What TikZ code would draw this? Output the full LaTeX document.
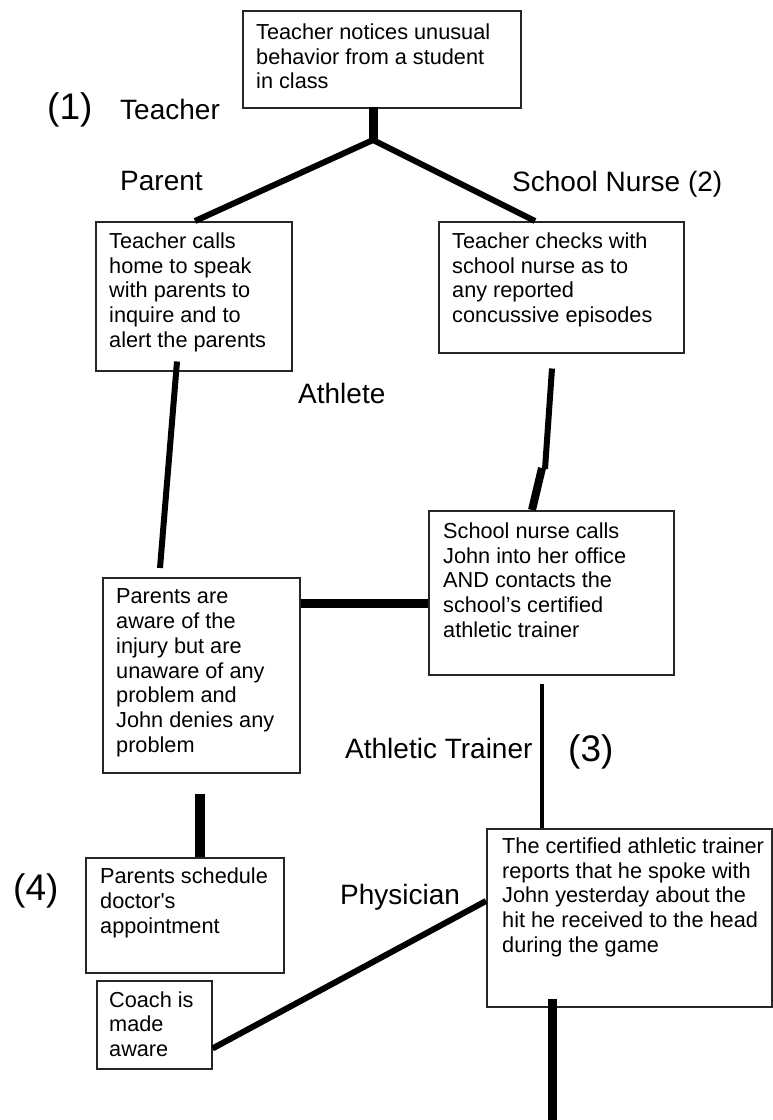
\documentclass[tikz,border=0pt]{standalone}
\usepackage{fontspec}
\setmainfont{Liberation Sans}[Ligatures=TeXOff]
\usetikzlibrary{calc}
\tikzset{
  box/.style={draw=black!85, line width=1.5pt, inner sep=0pt, anchor=north west},
  boxtext/.style={font=\fontsize{21.7}{24.8}\selectfont, align=left, inner sep=0pt, anchor=north west},
  lbl/.style={font=\fontsize{28}{32}\selectfont, inner sep=0pt, anchor=base west},
  num/.style={font=\fontsize{37}{42}\selectfont, inner sep=0pt, anchor=base west},
  conn/.style={line width=#1, draw=black},
  conn/.default=6pt
}
\begin{document}
\begin{tikzpicture}[x=1pt,y=-1pt]
\useasboundingbox[fill=white] (0,0) rectangle (773,1120);

% boxes
\node[box, minimum width=278pt, minimum height=97pt] (b1) at (242,10) {};
\node[box, minimum width=196pt, minimum height=149pt] (b2) at (95,221) {};
\node[box, minimum width=245pt, minimum height=131pt] (b3) at (438,221) {};
\node[box, minimum width=197pt, minimum height=195pt] (b4) at (102,577) {};
\node[box, minimum width=245pt, minimum height=164pt] (b5) at (428,510) {};
\node[box, minimum width=285pt, minimum height=178pt] (b6) at (486,828) {};
\node[box, minimum width=198pt, minimum height=115pt] (b7) at (85,857) {};
\node[box, minimum width=115pt, minimum height=88pt] (b8) at (96,980) {};

% box texts
\node[boxtext] (t1) at (256,23.4) {Teacher notices unusual\\behavior from a student\\in class};
\node[boxtext] (t2) at (109,232.4) {Teacher calls\\home to speak\\with parents to\\inquire and to\\alert the parents};
\node[boxtext] (t3) at (452,232.4) {Teacher checks with\\school nurse as to\\any reported\\concussive episodes};
\node[boxtext] (t4) at (116,588.6) {Parents are\\aware of the\\injury but are\\unaware of any\\problem and\\John denies any\\problem};
\node[boxtext] (t5) at (443,522.4) {School nurse calls\\John into her office\\AND contacts the\\school’s certified\\athletic trainer};
\node[boxtext] (t6) at (502,837.4) {The certified athletic trainer\\reports that he spoke with\\John yesterday about the\\hit he received to the head\\during the game};
\node[boxtext] (t7) at (100,867.8) {Parents schedule\\doctor's\\appointment};
\node[boxtext] (t8) at (109,991.2) {Coach is\\made\\aware};

% labels
\node[num] (n1) at (47,119) {(1)};
\node[lbl] (lteacher) at (120,119) {Teacher};
\node[lbl] (lparent) at (120,190) {Parent};
\node[lbl] (lnurse) at (512,191) {School Nurse (2)};
\node[lbl] (lathlete) at (298,403) {Athlete};
\node[lbl] (ltrainer) at (345,758) {Athletic Trainer};
\node[num] (n3) at (568,761) {(3)};
\node[num] (n4) at (13,900) {(4)};
\node[lbl] (lphys) at (340,904) {Physician};

% connectors
\coordinate (j) at (373,140);
\coordinate (k) at (545,469);
\coordinate (hb) at (0,603);
\coordinate (bot) at (552,1120);

\draw[conn=9pt] ([xshift=131pt,yshift=2pt]b1.south west) -- ([yshift=-2pt]j);
\draw[conn=6pt] (j) -- ([xshift=100pt]b2.north west);
\draw[conn=6pt] (j) -- ([xshift=97pt]b3.north west);
\draw[conn=6pt] ([xshift=82pt,yshift=10pt]b2.south west) -- ([xshift=58pt,yshift=9pt]b4.north west);
\draw[conn=6pt] ([xshift=114pt,yshift=-15pt]b3.south west) -- (k);
\draw[conn=8pt] ([xshift=-3pt,yshift=1pt]k) -- ([xshift=104pt]b5.north west);
\draw[conn=9pt] (b4.east |- hb) -- (b5.west |- hb);
\draw[conn=4pt] ([xshift=114pt,yshift=-8pt]b5.south west) -- ([xshift=56pt]b6.north west);
\draw[conn=10pt] ([xshift=98pt,yshift=-20pt]b4.south west) -- ([xshift=115pt]b7.north west);
\draw[conn=6pt] ([yshift=21pt]b8.south east) -- ([yshift=-73pt]b6.north west);
\draw[conn=9pt] ([xshift=66pt,yshift=9pt]b6.south west) -- (bot);
\end{tikzpicture}
\end{document}
